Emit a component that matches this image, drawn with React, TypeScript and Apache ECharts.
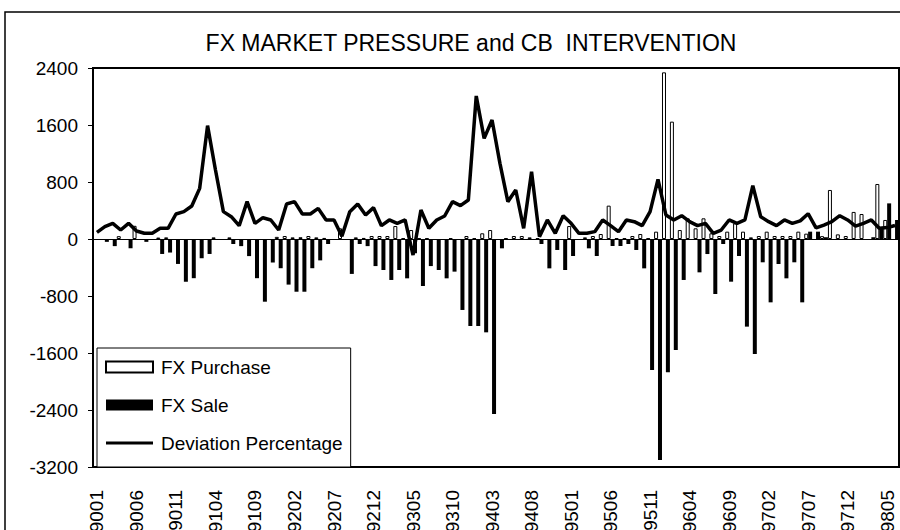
import React, { useEffect, useRef } from "react";
import * as echarts from "echarts";

const months = [
  "9001","9002","9003","9004","9005","9006","9007","9008","9009","9010","9011","9012",
  "9101","9102","9103","9104","9105","9106","9107","9108","9109","9110","9111","9112",
  "9201","9202","9203","9204","9205","9206","9207","9208","9209","9210","9211","9212",
  "9301","9302","9303","9304","9305","9306","9307","9308","9309","9310","9311","9312",
  "9401","9402","9403","9404","9405","9406","9407","9408","9409","9410","9411","9412",
  "9501","9502","9503","9504","9505","9506","9507","9508","9509","9510","9511","9512",
  "9601","9602","9603","9604","9605","9606","9607","9608","9609","9610","9611","9612",
  "9701","9702","9703","9704","9705","9706","9707","9708","9709","9710","9711","9712",
  "9801","9802","9803","9804","9805","9806",
];

const fxPurchase = [
  0, 0, 40, 0, 185, 0, 0, 20, 23, 0,
  0, 0, 0, 0, 23, 0, 23, 0, 0, 0,
  0, 0, 30, 42, 23, 25, 42, 23, 15, 0,
  150, 0, 23, 15, 42, 42, 42, 182, 10, 126,
  10, 10, 0, 0, 10, 0, 42, 10, 80, 126,
  0, 10, 42, 42, 23, 10, 0, 0, 0, 182,
  0, 23, 42, 70, 468, 10, 10, 42, 70, 10,
  103, 2339, 1647, 126, 290, 150, 290, 80, 42, 103,
  220, 103, 23, 42, 103, 42, 42, 42, 103, 75,
  0, 40, 688, 65, 42, 380, 351, 0, 772, 267,
  0, 0,
];

const fxSale = [
  0, -40, -100, 0, -130, 0, -40, 0, -210, -190,
  -350, -600, -550, -270, -210, 0, 0, -70, -100, -240,
  -550, -880, -330, -410, -640, -740, -740, -410, -300, -70,
  0, 0, -490, -70, -100, -380, -435, -575, -435, -552,
  -200, -660, -380, -435, -552, -458, -996, -1221, -1221, -1310,
  -2456, -131, 0, 0, 0, 0, -70, -412, -154, -435,
  -239, 0, -131, -239, 0, -98, -98, -70, -154, -412,
  -1838, -3101, -1871, -1558, -575, 0, -468, -211, -772, -70,
  -599, -239, -1230, -1614, -327, -889, -351, -552, -327, -889,
  103, 103, 25, 0, 0, 0, 0, 0, 25, 140,
  500, 267,
];

const deviationPct = [
  94, 173, 220, 126, 220, 112, 80, 80, 150, 150,
  351, 384, 463, 711, 1591, 968, 384, 313, 187, 524,
  220, 299, 267, 126, 491, 524, 351, 351, 430, 267,
  267, 40, 384, 491, 337, 440, 187, 267, 220, 267,
  -225, 407, 150, 267, 323, 524, 468, 547, 2007, 1413,
  1670, 1062, 524, 688, 150, 945, 33, 267, 80, 327,
  220, 80, 80, 103, 267, 187, 103, 267, 243, 187,
  384, 838, 337, 267, 327, 243, 187, 220, 80, 126,
  267, 220, 267, 749, 313, 243, 187, 267, 220, 255,
  355, 155, 196, 243, 327, 267, 180, 220, 267, 150,
  160, 190,
];

const yMin = -3200;
const yMax = 2400;
const yStep = 800;

export default function App() {
  const ref = useRef<HTMLDivElement>(null);
  useEffect(() => {
    const chart = echarts.init(ref.current!, null, { renderer: "svg" });
    const font = '"Liberation Sans", Arial, sans-serif';
    const nz = (a: number[]) => a.map((v) => (v === 0 ? "-" : v));
    chart.setOption({
      animation: false,
      backgroundColor: "#fff",
      title: {
        text: "FX MARKET PRESSURE and CB  INTERVENTION",
        left: 466,
        top: 26,
        textAlign: "center",
        textStyle: { fontSize: 23, fontWeight: "normal", fontFamily: font, color: "#000" },
      },
      graphic: [
        {
          type: "rect",
          silent: true,
          z: 100,
          shape: { x: 5, y: 12, width: 1000, height: 1000 },
          style: { fill: "none", stroke: "#000", lineWidth: 1.5 },
        },
      ],
      legend: {
        data: [
          { name: "FX Purchase", icon: "rect" },
          { name: "FX Sale", icon: "rect" },
          { name: "Deviation Percentage", icon: "path://M0,0 L50,0 L50,3.2 L0,3.2 Z" },
        ],
        symbolKeepAspect: true,
        orient: "vertical",
        left: 97,
        top: 348,
        padding: [9, 8, 14, 8],
        itemWidth: 47,
        itemHeight: 11,
        itemGap: 18,
        borderColor: "#000",
        borderWidth: 1,
        backgroundColor: "#fff",
        textStyle: { fontSize: 19, fontFamily: font, color: "#000", lineHeight: 20, padding: [0, 0, 0, 3] },
      },
      grid: {
        left: 93,
        top: 68,
        right: 1,
        bottom: 63,
        show: true,
        borderColor: "#000",
        borderWidth: 2,
        backgroundColor: "transparent",
        outerBoundsMode: "none",
      },
      xAxis: {
        type: "category",
        data: months,
        boundaryGap: true,
        axisLine: { show: true, onZero: false, lineStyle: { color: "#000", width: 2 } },
        axisTick: { show: false },
        axisLabel: { interval: 4, rotate: 90, margin: 23, fontSize: 19, fontFamily: font, color: "#000" },
        splitLine: { show: false },
      },
      yAxis: {
        type: "value",
        min: yMin,
        max: yMax,
        interval: yStep,
        axisLine: { show: true, lineStyle: { color: "#000", width: 2 } },
        axisTick: { show: true, length: 5, lineStyle: { color: "#000", width: 1 } },
        axisLabel: {
          margin: 15,
          fontSize: 19,
          fontFamily: font,
          color: "#000",
          formatter: (v: number) => String(v),
        },
        splitLine: { show: false },
      },
      series: [
        {
          name: "_pad",
          type: "bar",
          data: months.map(() => "-"),
          barWidth: 8,
          barGap: 0,
          silent: true,
          itemStyle: { color: "transparent" },
        },
        {
          name: "FX Sale",
          type: "bar",
          data: nz(fxSale),
          barWidth: 4,
          barGap: 0,
          itemStyle: { color: "#000" },
        },
        {
          name: "FX Purchase",
          type: "bar",
          data: nz(fxPurchase),
          barWidth: 4,
          barGap: 0,
          itemStyle: { color: "#fff", borderColor: "#000", borderWidth: 1 },
          markLine: {
            silent: true,
            symbol: ["none", "none"],
            label: { show: false },
            lineStyle: { color: "#000", width: 1, type: "solid" },
            data: [{ yAxis: 0 }],
          },
        },
        {
          name: "Deviation Percentage",
          type: "line",
          data: deviationPct,
          symbol: "none",
          lineStyle: { color: "#000", width: 3.5 },
          itemStyle: { color: "#000" },
        },
      ],
    });
    return () => chart.dispose();
  }, []);
  return <div ref={ref} style={{ position: "fixed", left: 0, top: 0, width: 900, height: 530 }} />;
}
